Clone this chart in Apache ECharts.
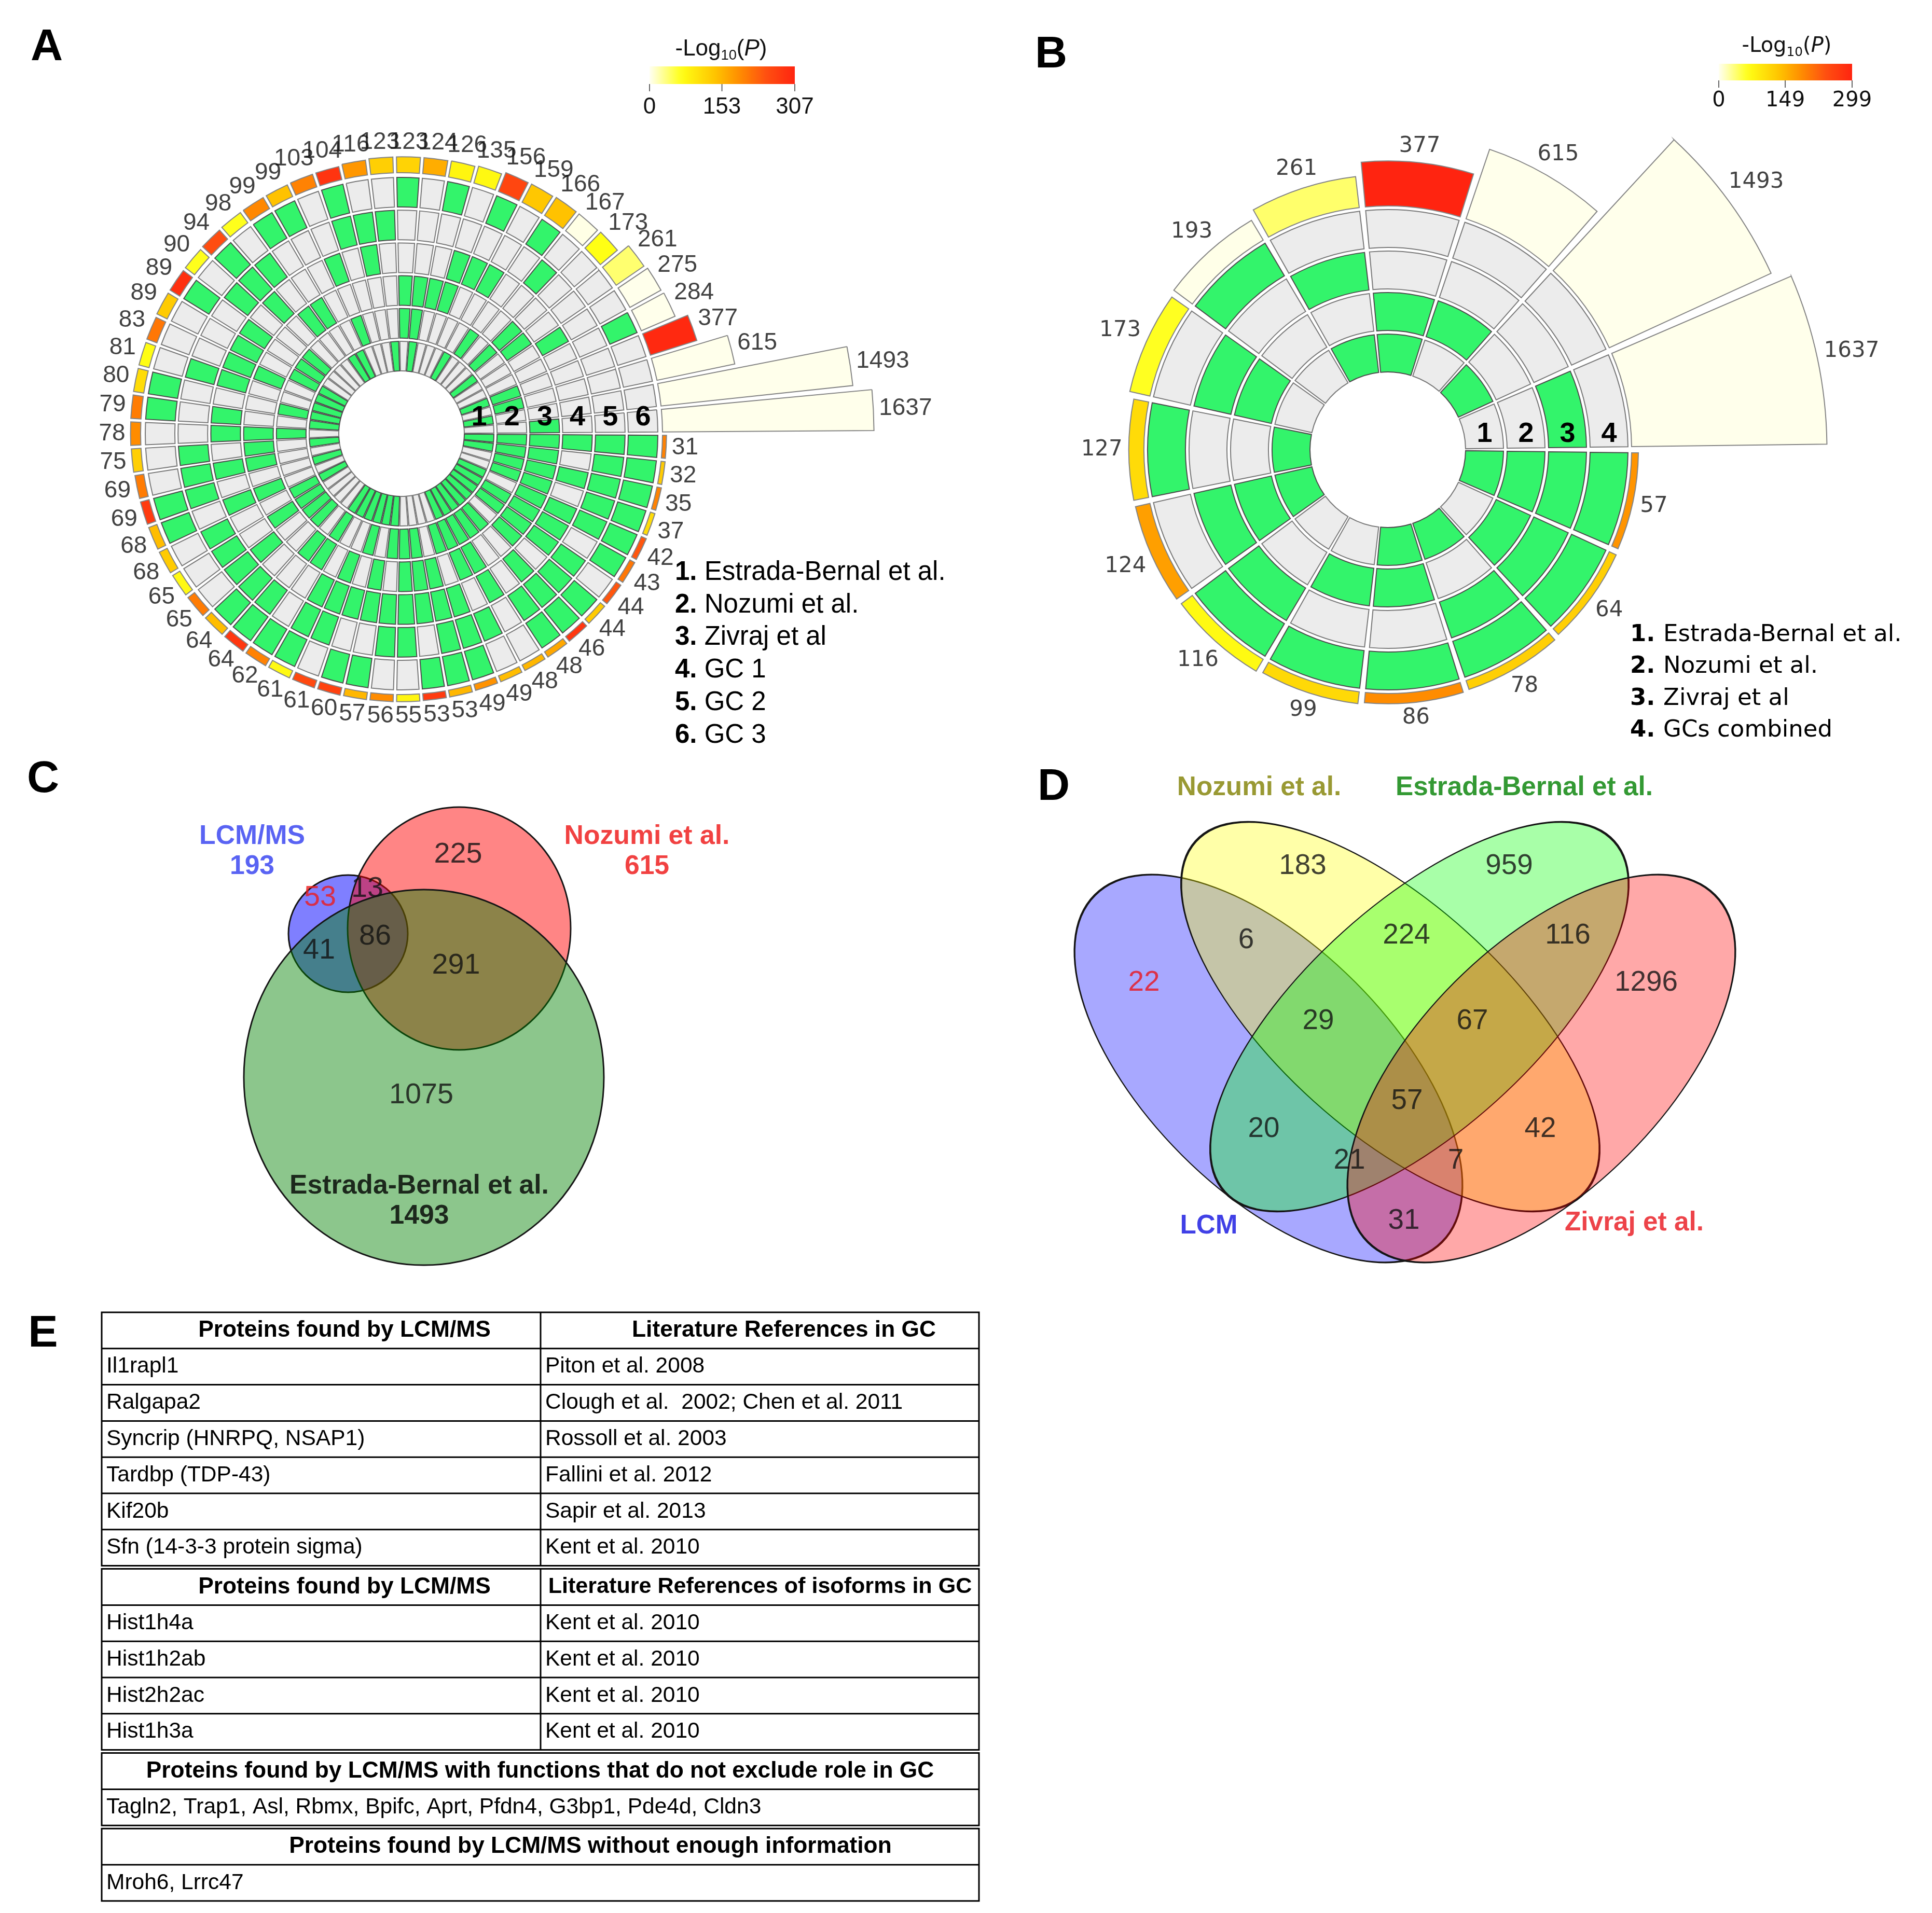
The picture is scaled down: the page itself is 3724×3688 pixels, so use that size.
<!DOCTYPE html>
<html>
<head>
<meta charset="utf-8">
<script src="https://cdn.jsdelivr.net/npm/echarts@6/dist/echarts.min.js"></script>
<style>
html,body{margin:0;padding:0;background:#fff;}
#chart{width:3724px;height:3688px;}
</style>
</head>
<body>
<div id="chart"></div>
<script>
// ================= DATA =================
// Panel A : 63 intersections of 6 sets (ring membership as digits)
const aCounts = [1637,1493,615,377,284,275,261,173,167,166,159,156,135,126,124,123,123,116,104,103,99,99,98,94,90,89,89,83,81,80,79,78,75,69,69,68,68,65,65,64,64,62,61,61,60,57,56,55,53,53,49,49,48,48,46,44,44,43,42,37,35,32,31];
const aSets = ['3','1','2','12','6','4','13','23','5','26','14','46','34','36','123','236','15','45','56','24','16','136','35','456','25','246','124','134','145','126','146','234',
  '135','345','156','346','125','235','245','256','356',
  '1236','1456','1345','1246','1346','1245','2345','2346','3456','2456','1235','1234',
  '1256','12456','1356','12345','12346','13456','2356','23456','12356','123456'];
const aLogP = [2,2,2,300,2,2,40,68,4,140,135,260,75,80,160,120,125,180,285,200,140,195,65,250,65,290,130,210,70,110,205,190,125,205,275,145,130,75,205,145,280,200,75,255,265,150,190,80,275,150,185,145,150,165,280,130,240,210,240,110,200,130,200];
const aRingNames = ['Estrada-Bernal et al.','Nozumi et al.','Zivraj et al','GC 1','GC 2','GC 3'];
const aScaleTicks = [0,153,307];

// Panel B : 15 intersections of 4 sets
const bCounts = [1637,1493,615,377,261,193,173,127,124,116,99,86,78,64,57];
const bSets = ['3','1','2','12','13','4','23','14','123','34','24','124','134','234','1234'];
const bLogP = [2,2,2,299,40,3,62,108,168,72,110,185,122,122,178];
const bRingNames = ['Estrada-Bernal et al.','Nozumi et al.','Zivraj et al','GCs combined'];
const bScaleTicks = [0,149,299];

// Panel C : 3-set Venn
const cSetNames = ['LCM/MS','Nozumi et al.','Estrada-Bernal et al.'];
const cSetTotals = [193,615,1493];
const cRegionKeys = ['L','LN','LE','LNE','N','NE','E'];
const cRegionCounts = [53,13,41,86,225,291,1075];

// Panel D : 4-set Venn
const dSetNames = ['LCM','Nozumi et al.','Estrada-Bernal et al.','Zivraj et al.'];
const dRegionKeys = ['L','N','E','Z','LN','NE','EZ','LNE','NEZ','LNEZ','LE','NZ','LEZ','LNZ','LZ'];
const dRegionCounts = [22,183,959,1296,6,224,116,29,67,57,20,42,21,7,31];

// Panel E : table
const eSections = [
  {header:['Proteins found by LCM/MS','Literature References in GC'],
   rows:[['Il1rapl1','Piton et al. 2008'],['Ralgapa2','Clough et al.  2002; Chen et al. 2011'],['Syncrip (HNRPQ, NSAP1)','Rossoll et al. 2003'],['Tardbp (TDP-43)','Fallini et al. 2012'],['Kif20b','Sapir et al. 2013'],['Sfn (14-3-3 protein sigma)','Kent et al. 2010']]},
  {header:['Proteins found by LCM/MS','Literature References of isoforms in GC'],
   rows:[['Hist1h4a','Kent et al. 2010'],['Hist1h2ab','Kent et al. 2010'],['Hist2h2ac','Kent et al. 2010'],['Hist1h3a','Kent et al. 2010']]},
  {header:['Proteins found by LCM/MS with functions that do not exclude role in GC'],
   rows:[['Tagln2, Trap1, Asl, Rbmx, Bpifc, Aprt, Pfdn4, G3bp1, Pde4d, Cldn3']]},
  {header:['Proteins found by LCM/MS without enough information'],
   rows:[['Mroh6, Lrrc47']]}
];

// ================= STYLE / LAYOUT =================
const GREEN = '#33f46b', GREY = '#ececec';
const _ctx = document.createElement('canvas').getContext('2d');
function fontAvailable(name){
  const s = 'mmmmmwwwwwlli1234567890ABCDEFabc';
  return ['monospace','serif'].some(base=>{
    _ctx.font='40px '+base; const w0=_ctx.measureText(s).width;
    _ctx.font='40px "'+name+'", '+base; const w1=_ctx.measureText(s).width;
    return Math.abs(w0-w1)>0.5;
  });
}
const NARROW = fontAvailable('Liberation Sans Narrow') ? 'Liberation Sans Narrow' : 'Liberation Sans';
function fitSize(text, weight, family, target){
  _ctx.font = weight+' 100px "'+family+'"';
  return 100*target/_ctx.measureText(text).width;
}
const ARIAL = 'Liberation Sans', WIDE = 'DejaVu Sans';

const HEAT_STOPS = [[0,[255,255,242]],[0.22,[255,255,20]],[0.45,[255,196,0]],[0.62,[255,140,0]],[0.8,[255,80,16]],[1,[255,36,16]]];
function heat(v,max){
  const t=Math.max(0,Math.min(1,v/max));
  for(let i=1;i<HEAT_STOPS.length;i++){
    if(t<=HEAT_STOPS[i][0]){
      const [t0,c0]=HEAT_STOPS[i-1],[t1,c1]=HEAT_STOPS[i];const f=(t-t0)/(t1-t0);
      return 'rgb('+c0.map((c,j)=>Math.round(c+(c1[j]-c)*f)).join(',')+')';
    }
  }
  return 'rgb(255,36,16)';
}

const LAYOUT = {
  A:{cx:774,cy:836,hole:121,pitch:63.2,cell:57,barStart:503,k:0.249,axisMax:2600,gap:'13%',fs:46,digitW:0.556,pad:10,family:ARIAL,bw:2,
     ringFs:54,ringDy:4,max:307,
     legend:{x:1301,y:1104,dy:62.7,fs:51,family:ARIAL},
     bar:{x:1252,y:128,w:280,h:34,titleX:1390,titleY:95,labelY:207,fs:44,tfs:44,family:ARIAL}},
  B:{cx:2675,cy:867,hole:150,pitch:80,cell:73,barStart:470,k:0.23,axisMax:2600,gap:'6%',fs:42,digitW:0.636,pad:12,family:WIDE,bw:2,
     ringFs:54,ringDy:3,max:299,
     legend:{x:3142,y:1224,dy:61.5,fs:45,family:WIDE},
     bar:{x:3313,y:123,w:257,h:32,titleX:3444,titleY:90,labelY:195,fs:40,tfs:40,family:WIDE}}
};

const polar=[], angleAxis=[], radiusAxis=[], series=[], graphic=[];

function circos(counts, sets, logp, nRings, L){
  const n=counts.length, p0=polar.length;
  polar.push({center:[L.cx,L.cy], radius:[L.hole, L.hole+nRings*L.pitch]});
  polar.push({center:[L.cx,L.cy], radius:[L.barStart, L.barStart+L.axisMax*L.k]});
  for(let p=0;p<2;p++){
    angleAxis.push({polarIndex:p0+p,type:'category',data:counts.map((_,i)=>String(i)),startAngle:0,clockwise:false,
      axisLine:{show:false},axisTick:{show:false},axisLabel:{show:false},splitLine:{show:false}});
    radiusAxis.push({polarIndex:p0+p,type:'value',min:0,max:p===0?nRings:L.axisMax,
      axisLine:{show:false},axisTick:{show:false},axisLabel:{show:false},splitLine:{show:false}});
  }
  const frac=L.cell/L.pitch;
  for(let r=0;r<nRings;r++){
    series.push({type:'bar',coordinateSystem:'polar',polarIndex:p0,stack:'s'+p0,barCategoryGap:L.gap,silent:true,
      data:sets.map(s=>{const on=s.indexOf(String(r+1))>=0;
        return {value:frac,itemStyle:{color:on?GREEN:GREY,borderColor:on?'#4d4d4d':'#7a7a7a',borderWidth:L.bw}};})});
    series.push({type:'bar',coordinateSystem:'polar',polarIndex:p0,stack:'s'+p0,barCategoryGap:L.gap,silent:true,
      itemStyle:{color:'rgba(0,0,0,0)'},data:sets.map(()=>1-frac)});
  }
  series.push({type:'bar',coordinateSystem:'polar',polarIndex:p0+1,barCategoryGap:L.gap,silent:true,
    data:counts.map((c,i)=>({value:c,itemStyle:{color:heat(logp[i],L.max),borderColor:'#858585',borderWidth:L.bw}}))});
  series.push({type:'scatter',coordinateSystem:'polar',polarIndex:p0+1,silent:true,symbolSize:1,itemStyle:{color:'rgba(0,0,0,0)'},
    label:{show:true,position:'inside',color:'#111',fontSize:L.fs,fontFamily:L.family,formatter:p=>p.data.t},
    data:counts.map((c,i)=>{
      const th=(i+0.5)*2*Math.PI/n, w=String(c).length*L.digitW*L.fs, h=0.74*L.fs;
      const rc=c*L.k+L.pad+0.5*(w*Math.abs(Math.cos(th))+h*Math.abs(Math.sin(th)));
      return {value:[rc/L.k,i],t:String(c)};
    })});
  for(let r=0;r<nRings;r++){
    graphic.push({type:'text',z:100,x:L.cx+L.hole+r*L.pitch+L.cell/2,y:L.cy-L.ringDy,
      style:{text:String(r+1),font:'bold '+L.ringFs+'px "Liberation Sans"',fill:'#000',align:'center',verticalAlign:'bottom',textAlign:'center',textVerticalAlign:'bottom'}});
  }
}
circos(aCounts,aSets,aLogP,6,LAYOUT.A);
circos(bCounts,bSets,bLogP,4,LAYOUT.B);

function legend(names,Lg){
  names.forEach((nm,i)=>{
    graphic.push({type:'text',z:100,x:Lg.x,y:Lg.y+i*Lg.dy,style:{text:'{b|'+(i+1)+'. }{t|'+nm+'}',
      rich:{b:{fontWeight:'bold',fontSize:Lg.fs,fontFamily:Lg.family,fill:'#000'},t:{fontSize:Lg.fs,fontFamily:Lg.family,fill:'#000'}},
      verticalAlign:'middle',textVerticalAlign:'middle',align:'left',textAlign:'left'}});
  });
}
legend(aRingNames,LAYOUT.A.legend);
legend(bRingNames,LAYOUT.B.legend);

function colorBar(ticks,max,Bc){
  const stops=[];for(let t=0;t<=1.0001;t+=0.05)stops.push({offset:Math.min(1,t),color:heat(t*max,max)});
  graphic.push({type:'rect',z:100,shape:{x:Bc.x,y:Bc.y,width:Bc.w,height:Bc.h},style:{fill:{type:'linear',x:0,y:0,x2:1,y2:0,colorStops:stops}}});
  ticks.forEach(v=>{
    const x=Bc.x+Bc.w*v/max;
    graphic.push({type:'line',z:100,shape:{x1:x,y1:Bc.y+Bc.h,x2:x,y2:Bc.y+Bc.h+14},style:{stroke:'#666',lineWidth:2}});
    graphic.push({type:'text',z:100,x:x,y:Bc.labelY,style:{text:String(v),font:Bc.fs+'px "'+Bc.family+'"',fill:'#111',align:'center',verticalAlign:'middle',textAlign:'center',textVerticalAlign:'middle'}});
  });
  graphic.push({type:'text',z:100,x:Bc.titleX,y:Bc.titleY,style:{text:'{n|-Log}{s|10}{n|(}{i|P}{n|)}',
    rich:{n:{fontSize:Bc.tfs,fontFamily:Bc.family,fill:'#111',lineHeight:Bc.tfs*1.2},
          s:{fontSize:Bc.tfs*0.62,fontFamily:Bc.family,fill:'#111',lineHeight:Bc.tfs*1.2,verticalAlign:'bottom'},
          i:{fontSize:Bc.tfs,fontFamily:Bc.family,fontStyle:'italic',fill:'#111',lineHeight:Bc.tfs*1.2}},
    align:'center',verticalAlign:'middle',textAlign:'center',textVerticalAlign:'middle'}});
}
colorBar(aScaleTicks,LAYOUT.A.max,LAYOUT.A.bar);
colorBar(bScaleTicks,LAYOUT.B.max,LAYOUT.B.bar);

// ================= VENN (C & D) =================
const ELLIPSE='path://M100,50 C100,77.614 77.614,100 50,100 C22.386,100 0,77.614 0,50 C0,22.386 22.386,0 50,0 C77.614,0 100,22.386 100,50 Z';
const VENN_C = {
  ellipses:[{cx:671,cy:1800,rx:115,ry:113,rot:0,color:'rgba(0,0,255,0.5)'},
            {cx:885,cy:1790,rx:215,ry:234,rot:0,color:'rgba(255,0,0,0.48)'},
            {cx:817,cy:2077,rx:347,ry:362,rot:0,color:'rgba(0,128,0,0.45)'}],
  regionPos:{L:[617,1731],LN:[708,1714],LE:[615,1833],LNE:[723,1806],N:[883,1648],NE:[879,1862],E:[812,2112]},
  regionColor:{L:'#ee1c1c'},
  titles:[{x:486,y:1613,color:'#2f3cf0'},{x:1247,y:1613,color:'#ee1111'},{x:808,y:2287,color:'#000'}],
  totalDy:58,
  numFs:fitSize('1075','normal',NARROW,124),
  titleFs:fitSize('Estrada-Bernal et al.','bold',NARROW,500)
};
const VENN_D = {
  ellipses:[{cx:2445,cy:2060,rx:473,ry:236,rot:-45,color:'rgba(0,0,255,0.34)'},
            {cx:2680,cy:1960,rx:505,ry:220,rot:-42,color:'rgba(255,255,0,0.34)'},
            {cx:2736,cy:1960,rx:505,ry:220,rot:42,color:'rgba(0,255,0,0.34)'},
            {cx:2971,cy:2060,rx:473,ry:236,rot:45,color:'rgba(255,0,0,0.34)'}],
  regionPos:{L:[2205,1895],N:[2511,1670],E:[2909,1670],Z:[3173,1895],LN:[2402,1813],NE:[2711,1804],EZ:[3022,1804],LNE:[2541,1969],NEZ:[2838,1969],LNEZ:[2712,2123],LE:[2436,2177],NZ:[2969,2177],LEZ:[2601,2238],LNZ:[2806,2238],LZ:[2706,2354]},
  regionColor:{L:'#e8141c'},
  titles:[{x:2330,y:2364,color:'#1010e0'},{x:2427,y:1519,color:'#7f7f00'},{x:2938,y:1519,color:'#008000'},{x:3150,y:2358,color:'#e8141c'}],
  numFs:fitSize('1296','normal',NARROW,122),
  titleFs:fitSize('Estrada-Bernal et al.','bold',NARROW,496)
};
function venn(V, keys, counts, names, totals){
  V.ellipses.forEach(e=>{
    series.push({type:'scatter',xAxisIndex:0,yAxisIndex:0,silent:true,symbol:ELLIPSE,symbolSize:[2*e.rx,2*e.ry],symbolRotate:e.rot,
      itemStyle:{color:e.color,borderColor:'#151515',borderWidth:3,opacity:1},data:[[e.cx,e.cy]]});
  });
  series.push({type:'scatter',xAxisIndex:0,yAxisIndex:0,silent:true,symbolSize:1,itemStyle:{color:'rgba(0,0,0,0)'},z:5,
    label:{show:true,position:'inside',fontFamily:NARROW,fontSize:V.numFs,color:'#111',formatter:p=>p.data.t},
    data:keys.map((k,i)=>({value:V.regionPos[k],t:String(counts[i]),label:{color:V.regionColor[k]||'#111'}}))});
  series.push({type:'scatter',xAxisIndex:0,yAxisIndex:0,silent:true,symbolSize:1,itemStyle:{color:'rgba(0,0,0,0)'},z:5,
    label:{show:true,position:'inside',fontFamily:NARROW,fontWeight:'bold',fontSize:V.titleFs,lineHeight:V.totalDy||V.titleFs,formatter:p=>p.data.t},
    data:names.map((nm,i)=>({value:[V.titles[i].x,V.titles[i].y+(totals?V.totalDy/2:0)],t:totals?nm+'\n'+totals[i]:nm,label:{color:V.titles[i].color}}))});
}
venn(VENN_C,cRegionKeys,cRegionCounts,cSetNames,cSetTotals);
venn(VENN_D,dRegionKeys,dRegionCounts,dSetNames,null);

// ================= TABLE (E) =================
const TB={x0:196,x1:1887,xd:1042,y0:2530,rowH:69.8,gap:6,lw:3,
  hdrFs:fitSize('Proteins found by LCM/MS','bold',NARROW,563),
  bodyFs:fitSize('Clough et al.  2002; Chen et al. 2011','normal',NARROW,689),
  hdrX:[[664,1511],[664,1465],[1041],[1138]],pad:9};
(function table(){
  let y=TB.y0;
  eSections.forEach((sec,si)=>{
    const nRows=sec.rows.length+1, h=nRows*TB.rowH;
    graphic.push({type:'rect',z:100,shape:{x:TB.x0,y:y,width:TB.x1-TB.x0,height:h},style:{fill:'none',stroke:'#000',lineWidth:TB.lw}});
    for(let r=1;r<nRows;r++){
      graphic.push({type:'line',z:100,shape:{x1:TB.x0,y1:y+r*TB.rowH,x2:TB.x1,y2:y+r*TB.rowH},style:{stroke:'#000',lineWidth:TB.lw}});
    }
    if(sec.header.length>1){
      graphic.push({type:'line',z:100,shape:{x1:TB.xd,y1:y,x2:TB.xd,y2:y+h},style:{stroke:'#000',lineWidth:TB.lw}});
    }
    sec.header.forEach((t,ci)=>{
      const cellW = sec.header.length>1 ? (ci===0?TB.xd-TB.x0:TB.x1-TB.xd) : TB.x1-TB.x0;
      const fs = Math.min(TB.hdrFs, fitSize(t,'bold',NARROW,cellW-28));
      graphic.push({type:'text',z:100,x:TB.hdrX[si][ci],y:y+TB.rowH/2,style:{text:t,font:'bold '+fs.toFixed(1)+'px "'+NARROW+'"',fill:'#000',
        align:'center',verticalAlign:'middle',textAlign:'center',textVerticalAlign:'middle'}});
    });
    sec.rows.forEach((row,ri)=>{
      row.forEach((t,ci)=>{
        graphic.push({type:'text',z:100,x:(ci===0?TB.x0:TB.xd)+TB.pad,y:y+(ri+1.5)*TB.rowH,style:{text:t,font:TB.bodyFs.toFixed(1)+'px "'+NARROW+'"',fill:'#000',
          align:'left',verticalAlign:'middle',textAlign:'left',textVerticalAlign:'middle'}});
      });
    });
    y+=h+TB.gap;
  });
})();

[['A',90,92],['B',2026,106],['C',83,1503],['D',2031,1518],['E',83,2572]].forEach(([t,x,y])=>{
  graphic.push({type:'text',z:100,x:x,y:y,style:{text:t,font:'bold 86px "Liberation Sans"',fill:'#000',align:'center',verticalAlign:'middle',textAlign:'center',textVerticalAlign:'middle'}});
});

const chart=echarts.init(document.getElementById('chart'),null,{renderer:'canvas',width:3724,height:3688});
chart.setOption({
  animation:false,
  backgroundColor:'#ffffff',
  polar:polar, angleAxis:angleAxis, radiusAxis:radiusAxis,
  grid:[{left:0,top:0,right:0,bottom:0,containLabel:false}],
  xAxis:[{type:'value',min:0,max:3724,show:false,gridIndex:0}],
  yAxis:[{type:'value',min:0,max:3688,inverse:true,show:false,gridIndex:0}],
  series:series,
  graphic:graphic
});
</script>
</body>
</html>
